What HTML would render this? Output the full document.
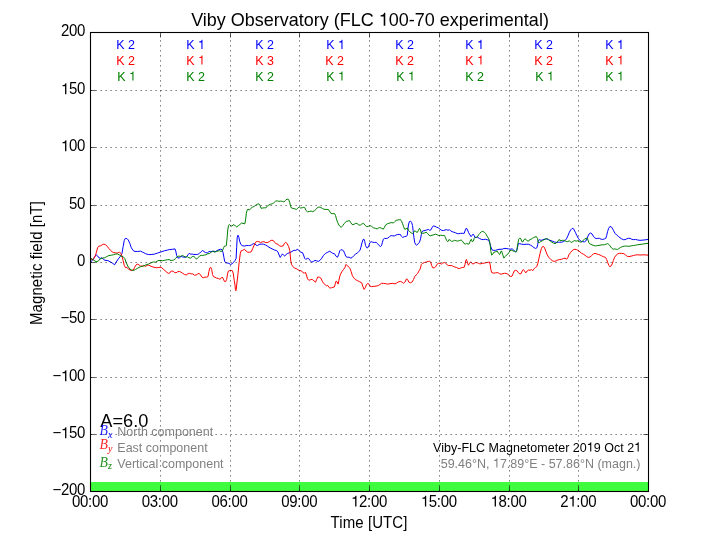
<!DOCTYPE html>
<html><head><meta charset="utf-8"><title>Viby Observatory</title>
<style>
html,body{margin:0;padding:0;background:#fff;overflow:hidden}
svg{display:block;will-change:transform}
text{font-family:"Liberation Sans",sans-serif;fill:#000}
.it{font-family:"Liberation Serif",serif;font-style:italic}
tspan.o{fill:none !important}
</style></head><body>
<svg width="720" height="540" viewBox="0 0 720 540">
<rect x="0" y="0" width="720" height="540" fill="#ffffff"/>
<rect x="90.5" y="482" width="558.0" height="9.5" fill="#3ffc3f"/>
<g fill="none" stroke-width="1.0" stroke-linejoin="round">
<polyline stroke="#0000ff" points="90.89,261.67 92.78,260.0 94.44,257.22 96.11,254.78 97.56,255.89 98.89,257.78 100.56,258.33 101.67,257.78 103.33,259.22 105.0,260.33 107.78,260.56 110.0,261.67 112.22,263.0 114.67,264.78 116.11,262.22 118.33,258.89 120.56,256.11 122.0,253.33 123.11,246.67 124.22,240.56 125.33,238.33 126.89,238.56 128.33,240.0 129.78,243.33 131.33,247.78 133.11,250.56 135.0,251.44 137.78,251.44 140.56,251.11 142.78,252.22 145.56,253.67 148.33,254.56 151.11,254.56 154.44,254.11 157.78,253.0 161.11,251.89 164.44,250.78 167.78,250.0 169.78,249.44 170.0,249.67 172.78,249.22 175.0,248.89 175.78,251.11 176.67,255.56 178.0,258.11 179.44,257.78 181.11,256.33 182.78,257.0 185.0,257.22 186.67,256.67 188.0,254.78 189.11,253.33 190.56,254.11 192.22,254.11 193.89,254.44 196.11,254.44 197.78,254.44 199.44,253.33 201.11,251.67 202.44,250.56 203.89,251.44 205.56,252.56 207.22,253.0 208.89,251.67 210.56,251.44 212.0,251.67 213.56,251.11 215.33,251.67 216.89,250.78 218.89,249.67 220.56,249.22 222.0,249.67 223.11,252.78 223.89,257.22 224.67,261.11 225.56,262.78 227.22,263.0 228.89,263.33 230.56,264.44 232.0,263.89 233.56,262.22 235.0,260.56 236.11,258.33 236.67,247.22 237.22,237.22 238.0,235.22 238.89,237.22 239.78,241.67 240.89,244.44 242.22,245.56 244.22,246.11 246.11,245.56 248.33,245.56 249.78,245.56 250.0,245.56 251.67,244.78 253.33,243.67 255.0,243.89 256.11,245.22 257.56,245.56 259.11,244.44 261.11,244.11 263.33,244.11 265.56,245.0 267.78,246.33 270.0,247.78 272.22,248.89 274.44,250.0 276.67,250.56 278.0,252.22 279.11,255.0 280.22,257.44 281.33,255.56 282.44,253.89 283.56,255.22 284.67,256.11 286.11,254.44 287.78,253.33 290.0,252.56 292.0,251.44 293.89,250.33 295.78,250.33 297.78,249.22 299.44,251.11 300.89,252.22 302.44,252.56 303.56,255.0 304.67,258.33 305.78,259.44 307.22,258.33 308.67,258.56 310.0,260.33 311.67,262.22 313.33,261.44 315.0,260.33 316.67,260.78 318.33,261.44 320.0,260.33 321.67,258.33 323.33,255.56 325.56,253.33 327.78,252.22 329.78,251.22 331.11,252.22 332.78,253.33 334.44,253.67 336.11,256.33 337.56,257.22 338.67,254.44 339.78,250.78 340.89,249.67 342.22,250.0 343.56,250.78 344.67,253.33 345.78,256.33 347.22,257.22 349.11,257.22 350.89,258.11 352.22,257.44 353.89,255.56 355.56,254.11 357.22,253.0 358.67,251.67 360.0,250.33 360.89,247.22 362.0,242.78 363.11,239.44 364.0,239.22 364.78,241.67 365.56,245.56 366.67,247.78 367.78,247.78 368.89,245.56 369.78,242.78 371.11,241.67 372.78,242.22 374.44,242.56 376.11,242.22 377.56,243.67 379.11,245.56 380.56,246.67 381.67,245.22 382.44,242.22 383.33,239.22 384.44,238.33 386.11,238.56 387.78,238.11 389.44,236.67 391.11,235.56 392.78,235.89 394.44,235.89 396.11,235.0 397.78,234.44 399.78,234.44 400.0,234.11 401.33,236.11 402.78,237.44 404.44,236.67 406.11,236.33 407.22,235.56 407.78,230.56 408.44,225.0 409.33,221.67 410.56,221.11 411.67,222.56 412.56,225.56 413.11,230.56 413.89,237.22 414.67,242.22 415.56,244.44 416.67,245.22 418.0,243.89 419.44,242.22 420.56,238.89 421.33,234.44 422.0,231.67 423.33,230.78 425.0,230.56 426.67,230.0 428.33,229.44 429.78,230.33 431.11,229.67 432.22,227.22 433.33,225.89 435.0,226.33 436.67,227.22 438.33,227.78 440.0,229.22 441.67,230.33 443.33,230.56 445.0,230.0 446.67,229.67 448.0,230.33 449.44,229.67 450.89,231.11 452.22,231.67 453.89,232.22 455.56,232.78 457.22,233.67 458.89,233.67 460.56,233.33 462.22,233.33 464.22,233.33 465.33,230.0 466.44,228.11 467.56,230.0 468.67,232.78 470.0,235.0 471.11,236.67 472.22,235.22 473.11,234.11 474.22,235.56 475.0,237.78 476.44,237.22 477.78,237.22 479.11,238.33 479.78,238.56 480.0,238.67 481.67,239.56 483.33,239.56 485.56,239.22 487.22,239.78 488.67,240.0 489.78,243.11 490.89,247.0 492.0,249.78 493.33,250.33 495.56,250.33 497.78,249.56 500.0,249.22 502.22,249.22 503.89,248.44 506.11,248.44 508.33,248.89 510.0,249.22 512.22,248.89 513.89,250.33 515.56,251.78 516.67,251.11 517.56,247.0 518.33,243.67 519.78,243.67 521.67,244.22 523.89,244.44 526.11,244.22 528.33,244.22 530.56,245.11 532.22,246.22 533.89,247.56 535.56,248.44 536.89,247.78 537.78,244.22 538.33,240.33 539.44,239.78 541.11,240.33 542.78,239.78 544.44,239.22 546.67,238.89 548.33,239.56 550.0,240.33 552.22,241.11 554.44,242.0 556.67,242.56 558.33,242.22 559.78,242.22 560.0,242.22 561.67,242.22 563.33,241.67 565.0,240.56 566.44,238.89 567.78,236.11 569.11,232.78 570.56,230.0 572.0,228.56 573.11,228.33 574.22,230.0 575.56,232.78 576.89,235.56 578.33,238.33 579.78,240.33 581.33,241.44 582.78,241.67 584.44,241.89 585.78,241.11 586.89,238.89 588.0,236.11 589.11,233.89 590.56,233.0 592.0,233.89 593.33,236.11 594.67,237.78 596.11,238.56 597.78,238.33 599.44,238.33 601.11,239.22 602.78,239.44 604.44,238.89 605.78,238.33 606.67,235.56 607.56,231.67 608.67,228.33 609.78,226.67 611.11,226.67 612.22,228.11 613.56,230.56 615.0,233.33 616.67,235.0 618.33,236.33 620.0,237.78 621.67,238.89 623.33,239.67 625.0,239.67 626.67,238.89 628.33,238.33 630.0,238.33 631.67,239.22 633.33,239.67 635.56,239.44 637.78,240.0 640.0,240.33 644,240.0 648.5,239.4"/>
<polyline stroke="#ff0000" points="90.89,258.89 92.22,260.0 93.89,258.33 95.33,255.56 96.44,252.22 97.56,247.78 98.89,246.11 100.56,245.89 102.22,244.78 103.89,244.11 105.56,244.78 107.22,246.33 108.89,248.56 110.56,250.33 112.22,251.89 113.89,252.56 116.11,253.0 117.78,253.0 119.44,252.22 120.89,253.33 122.0,256.11 123.11,260.56 124.22,265.22 125.56,267.78 126.89,267.44 128.33,268.89 130.0,270.0 131.67,270.56 133.33,270.0 134.44,267.78 135.78,265.22 137.22,264.11 138.89,264.78 140.56,266.11 142.22,266.11 143.89,265.56 145.56,266.33 147.22,265.22 148.89,265.22 151.11,266.33 153.89,267.22 156.67,267.78 158.89,267.44 161.11,267.22 163.33,269.22 166.11,271.67 168.33,273.33 169.78,273.0 170.0,272.22 171.67,271.11 173.11,271.11 174.44,272.56 176.11,272.78 177.78,271.67 179.44,271.44 181.11,272.22 182.78,273.33 184.44,274.44 186.11,275.0 187.78,273.89 189.44,273.33 191.11,273.89 192.78,273.89 194.44,275.22 196.11,275.0 197.78,273.89 199.11,273.33 200.56,275.0 202.0,277.22 203.33,277.78 205.0,277.0 206.67,277.22 208.0,276.67 208.89,271.67 209.78,268.11 210.67,267.22 211.67,269.44 212.56,274.44 213.56,276.67 215.0,277.22 216.67,278.11 218.33,278.56 220.0,279.22 221.33,278.11 222.22,277.0 223.33,278.89 224.44,281.44 225.56,281.67 226.67,279.44 227.56,273.89 228.33,271.11 229.78,270.56 231.11,270.33 232.44,270.78 233.33,273.89 234.22,280.56 235.0,285.0 235.44,289.78 235.78,290.78 236.22,289.78 236.67,285.0 238.0,273.89 239.11,262.78 240.22,253.89 241.11,250.78 242.78,250.33 244.44,249.22 246.11,251.11 247.78,252.22 249.78,252.22 250.0,252.22 251.33,251.67 252.78,248.33 254.22,245.0 255.56,242.22 257.22,241.44 258.89,241.67 260.56,242.56 262.22,241.89 263.89,241.67 265.56,242.56 267.78,242.56 269.44,241.44 271.11,240.33 273.11,240.33 274.44,242.22 276.11,243.67 277.78,244.11 279.44,245.89 281.11,246.33 283.11,245.89 284.44,243.33 285.78,242.22 287.22,243.89 288.67,246.67 289.78,250.56 290.33,256.11 290.89,261.67 291.67,264.78 293.11,266.67 294.44,268.11 296.11,268.56 297.78,269.67 299.44,270.56 301.11,270.78 302.78,272.22 304.22,273.33 305.33,272.22 306.44,275.0 307.56,278.89 308.89,280.33 310.56,279.67 312.22,279.44 313.89,280.78 315.56,282.22 316.67,279.44 317.78,277.0 319.44,277.22 320.89,278.11 322.22,281.11 323.56,283.33 325.33,284.78 326.67,285.89 327.78,285.56 329.11,287.22 329.78,288.11 331.44,287.78 333.0,287.22 334.44,287.0 335.22,283.89 336.11,281.11 337.0,281.67 338.11,284.11 338.89,280.56 339.67,276.67 340.56,274.11 341.89,271.67 343.33,269.67 344.78,267.78 346.11,264.44 347.22,265.56 348.56,267.0 350.0,268.33 351.11,271.67 352.22,275.22 353.67,277.78 355.22,279.44 357.22,280.56 359.44,281.67 361.67,282.78 362.78,286.11 364.11,289.44 365.22,287.78 366.33,285.0 367.78,283.33 368.89,284.11 370.0,286.11 371.67,286.67 373.89,286.33 376.11,286.11 378.33,285.56 380.0,284.44 381.44,283.33 383.33,283.33 385.56,283.67 387.78,284.11 390.0,283.67 392.78,283.33 395.0,283.89 396.67,283.0 398.33,281.89 400.56,281.44 402.22,282.22 403.33,283.33 404.78,282.33 406.44,278.89 407.56,279.44 408.89,282.22 410.56,282.78 412.22,281.89 413.56,279.44 414.67,276.67 416.11,275.0 417.56,273.67 418.89,271.11 420.22,268.89 421.33,264.44 422.44,263.33 424.44,262.56 426.67,261.89 428.33,261.44 429.78,261.11 430.89,262.78 431.67,265.56 432.78,267.78 434.44,267.78 435.78,266.67 436.89,264.44 438.33,263.33 440.0,263.33 441.33,264.11 442.78,263.0 444.44,262.56 445.78,263.33 447.22,264.78 448.67,265.56 450.0,265.56 451.67,265.56 453.11,266.33 454.67,267.0 456.44,267.44 458.0,268.33 459.44,268.56 461.11,267.78 462.78,267.44 464.22,267.22 465.0,264.44 465.78,260.56 466.44,259.44 467.22,261.67 468.33,265.22 469.44,263.67 470.56,261.89 471.67,262.78 472.78,264.11 474.22,263.33 475.56,262.56 477.22,262.78 478.67,263.33 479.78,263.89 480.0,264.0 482.22,263.33 484.44,263.11 486.67,262.56 488.67,262.22 489.44,262.0 490.22,264.78 490.89,269.78 491.67,272.56 493.33,273.11 495.56,272.89 497.78,272.56 499.44,273.67 501.11,274.22 502.78,273.67 504.44,273.33 506.11,273.33 507.78,274.22 509.11,275.33 510.56,276.44 512.0,276.22 513.11,273.67 514.22,270.89 515.56,270.33 516.89,270.67 518.33,272.56 519.78,274.0 521.11,273.67 522.22,270.89 523.33,269.56 524.44,270.89 525.78,272.89 527.22,270.89 528.67,270.0 530.0,270.33 531.33,269.56 532.78,270.67 534.22,268.67 535.56,267.33 536.89,266.44 537.78,263.67 538.89,258.67 540.0,253.67 541.33,248.67 542.44,246.67 543.56,246.44 544.67,248.11 545.78,251.11 547.22,254.78 548.67,257.33 550.56,259.22 552.22,260.67 554.22,261.44 556.11,260.89 557.78,260.0 559.78,259.56 560.0,259.67 561.67,259.22 563.33,258.56 565.0,258.11 566.67,259.22 567.78,257.78 568.89,254.78 570.56,252.56 572.0,250.78 573.33,249.67 575.0,249.22 576.67,249.67 578.33,250.56 580.0,251.89 581.67,253.33 583.33,254.11 585.0,255.22 586.67,256.67 588.33,257.44 590.0,257.0 591.67,255.56 593.33,253.89 595.0,253.33 596.67,253.89 598.33,254.44 600.0,255.0 601.67,255.89 603.33,256.67 605.56,257.44 606.67,259.44 607.78,262.78 608.89,265.56 610.0,266.67 611.11,265.89 612.22,263.89 613.33,260.56 614.67,257.22 616.11,255.22 617.78,253.89 619.44,253.33 621.67,253.33 623.89,253.67 625.56,255.0 627.22,256.33 628.89,256.67 631.11,256.11 633.33,255.56 635.56,255.0 637.78,254.78 640.0,255.0 644,254.8 648.5,255.2"/>
<polyline stroke="#008000" points="90.89,258.33 92.78,259.44 95.0,261.11 96.89,261.67 98.67,260.78 100.22,258.89 102.22,258.11 104.44,257.78 106.67,256.67 108.89,255.56 111.11,255.22 113.33,254.78 115.56,254.11 117.22,253.89 119.11,254.78 121.11,256.11 123.11,256.67 124.67,258.33 126.11,262.22 127.78,266.11 129.78,268.89 131.67,270.0 133.56,270.56 135.56,269.44 137.78,268.11 140.56,266.67 143.33,266.11 145.56,265.0 148.33,264.11 151.11,262.78 153.33,261.89 155.56,262.22 157.78,260.78 160.0,260.33 162.22,260.78 164.44,260.33 167.78,259.67 169.78,259.67 170.0,260.33 172.22,260.33 173.89,260.0 175.56,258.33 177.22,256.67 178.89,256.11 180.56,256.33 182.22,255.56 183.89,256.11 185.56,257.22 187.22,256.67 188.89,257.78 190.56,258.11 192.22,256.67 193.89,256.33 195.33,257.78 196.44,259.22 197.78,257.78 199.44,256.33 201.11,255.22 202.78,255.56 204.44,255.0 206.11,254.78 207.78,253.67 209.44,253.67 211.11,252.22 212.78,251.11 214.44,252.22 216.11,251.44 217.78,251.11 219.44,250.78 221.11,251.44 222.44,250.78 223.56,247.78 224.67,245.89 225.78,246.11 226.33,245.56 227.0,238.89 227.78,230.0 228.56,225.33 229.44,224.44 230.56,225.78 231.89,226.11 233.0,225.0 234.11,224.67 235.56,226.11 236.67,226.89 238.33,225.78 240.0,224.44 241.44,223.11 243.0,223.33 244.78,223.89 245.56,220.0 246.33,213.33 247.22,209.78 248.11,209.11 249.22,210.22 250.56,208.67 252.22,207.22 254.11,206.44 255.56,205.33 257.22,204.22 258.89,203.89 260.0,205.56 261.11,208.33 262.78,208.0 264.44,207.78 265.89,208.0 267.22,206.11 268.89,205.0 270.56,204.22 272.22,203.89 273.89,202.78 275.56,201.11 277.22,200.89 278.89,201.33 280.56,201.11 282.22,201.33 283.89,202.0 285.56,200.22 287.0,199.11 288.56,199.44 289.67,202.22 290.56,206.11 291.44,208.0 293.0,208.33 294.78,208.89 296.33,209.44 297.78,208.33 299.22,206.89 300.56,208.0 302.22,207.78 303.89,207.22 304.78,207.56 306.11,210.56 307.56,211.89 309.44,211.44 311.11,211.11 312.78,211.67 314.44,210.78 316.11,209.22 317.56,207.44 319.11,207.0 320.89,207.44 322.22,208.33 323.89,209.22 326.11,209.44 328.33,209.44 329.44,211.11 330.89,213.33 332.78,213.67 334.67,213.67 335.56,215.56 336.44,218.89 337.56,222.22 338.89,225.0 340.22,226.67 341.33,227.22 342.78,225.56 344.44,223.33 346.11,221.44 347.78,221.11 349.44,220.56 350.56,222.22 352.0,224.44 353.89,224.44 355.56,223.33 357.22,223.67 358.89,225.0 360.22,225.22 361.67,224.11 363.56,223.33 365.0,225.22 366.67,226.67 368.33,226.33 369.78,225.56 371.67,226.33 373.33,227.78 375.33,228.33 377.22,228.89 378.89,227.78 379.78,227.44 380.0,227.78 381.67,228.33 383.33,229.22 384.44,227.22 385.78,224.78 387.22,223.89 388.89,223.33 391.11,222.56 393.33,223.0 394.67,221.67 396.11,220.33 397.78,220.0 399.11,219.67 399.78,220.0 400.0,219.44 401.33,220.56 402.44,223.33 403.56,226.67 404.67,229.22 406.11,228.89 407.22,227.78 408.33,230.33 409.78,231.67 411.11,232.78 412.44,233.67 413.56,232.56 414.67,230.78 415.78,231.44 417.22,232.56 418.33,230.56 419.44,228.33 420.56,230.0 421.33,233.33 422.78,233.33 424.44,233.0 426.11,232.22 427.56,233.33 428.89,235.22 430.22,235.89 432.0,235.22 433.89,234.78 435.56,234.11 437.22,234.78 438.89,235.56 440.56,235.22 442.78,235.56 444.44,235.56 445.56,237.78 446.67,240.56 447.78,241.67 448.89,239.67 450.22,240.0 451.67,241.44 453.11,241.11 454.44,240.33 456.11,240.78 457.78,241.11 459.44,240.56 461.11,240.0 462.44,241.11 463.89,243.33 465.33,244.11 466.67,243.33 468.0,244.11 469.11,243.89 470.22,241.11 471.33,239.22 472.22,241.67 473.33,241.11 474.22,238.33 475.33,237.22 476.67,237.44 477.78,236.11 479.11,234.11 479.78,233.44 480.0,233.11 481.33,231.78 482.78,231.44 484.44,232.22 485.78,233.67 486.89,235.89 488.33,238.11 489.44,240.33 490.22,245.33 490.89,251.44 491.67,255.11 492.78,254.22 493.89,252.22 495.56,251.78 497.22,251.11 498.33,253.11 499.78,254.44 500.89,251.44 501.67,251.11 502.78,254.78 503.89,258.11 505.0,256.67 506.11,255.33 507.56,254.44 508.89,252.56 510.0,250.67 511.67,250.33 513.33,251.11 514.67,251.11 515.78,252.22 516.89,249.78 517.78,244.22 518.67,239.22 519.78,238.11 520.89,238.67 521.67,241.44 522.78,242.0 523.89,239.78 525.0,238.89 526.11,239.56 527.22,240.89 528.67,241.11 529.78,239.56 531.11,239.22 532.22,238.44 533.56,237.56 535.0,237.0 536.44,236.67 537.56,238.67 538.33,242.56 539.44,242.56 540.89,241.44 542.22,240.89 543.89,239.78 545.56,238.89 547.22,238.67 548.67,239.78 550.22,241.11 552.0,242.22 553.56,243.11 555.0,243.67 556.44,242.89 557.78,240.89 559.11,239.78 559.78,239.56 560.0,240.78 562.22,240.33 564.44,240.33 566.11,241.44 567.78,241.67 569.44,240.78 571.11,242.56 572.78,241.67 574.44,240.56 576.11,241.11 577.78,240.78 579.44,241.67 581.11,242.22 582.78,240.78 584.44,239.22 586.11,238.33 587.22,238.11 588.0,240.0 588.89,242.78 590.22,244.11 592.0,244.78 593.89,245.56 595.56,245.89 597.78,245.56 600.0,245.22 602.22,244.78 604.44,244.78 606.11,244.11 607.56,243.67 608.89,244.44 610.22,246.11 611.67,248.11 613.11,249.22 614.67,248.89 616.11,249.22 617.56,249.44 618.89,248.56 620.56,247.44 622.22,246.67 624.44,246.11 626.67,246.11 628.89,246.33 631.11,245.89 633.33,245.56 635.56,245.22 637.78,244.78 640.0,244.44 644,243.9 648.5,243.2"/>
</g>
<g stroke="#000" stroke-width="0.625" stroke-dasharray="1.25 3.75" fill="none">
<line x1="160.50" y1="491.5" x2="160.50" y2="32.5"/>
<line x1="230.50" y1="491.5" x2="230.50" y2="32.5"/>
<line x1="299.50" y1="491.5" x2="299.50" y2="32.5"/>
<line x1="369.50" y1="491.5" x2="369.50" y2="32.5"/>
<line x1="439.50" y1="491.5" x2="439.50" y2="32.5"/>
<line x1="509.50" y1="491.5" x2="509.50" y2="32.5"/>
<line x1="578.50" y1="491.5" x2="578.50" y2="32.5"/>
<line x1="90.5" y1="434.50" x2="648.5" y2="434.50"/>
<line x1="90.5" y1="377.50" x2="648.5" y2="377.50"/>
<line x1="90.5" y1="319.50" x2="648.5" y2="319.50"/>
<line x1="90.5" y1="262.50" x2="648.5" y2="262.50"/>
<line x1="90.5" y1="205.50" x2="648.5" y2="205.50"/>
<line x1="90.5" y1="147.50" x2="648.5" y2="147.50"/>
<line x1="90.5" y1="90.50" x2="648.5" y2="90.50"/>
</g>
<g stroke="#000" stroke-width="0.625">
<line x1="90.50" y1="491.5" x2="90.50" y2="486.5"/><line x1="90.50" y1="32.5" x2="90.50" y2="37.5"/>
<line x1="160.50" y1="491.5" x2="160.50" y2="486.5"/><line x1="160.50" y1="32.5" x2="160.50" y2="37.5"/>
<line x1="230.50" y1="491.5" x2="230.50" y2="486.5"/><line x1="230.50" y1="32.5" x2="230.50" y2="37.5"/>
<line x1="299.50" y1="491.5" x2="299.50" y2="486.5"/><line x1="299.50" y1="32.5" x2="299.50" y2="37.5"/>
<line x1="369.50" y1="491.5" x2="369.50" y2="486.5"/><line x1="369.50" y1="32.5" x2="369.50" y2="37.5"/>
<line x1="439.50" y1="491.5" x2="439.50" y2="486.5"/><line x1="439.50" y1="32.5" x2="439.50" y2="37.5"/>
<line x1="509.50" y1="491.5" x2="509.50" y2="486.5"/><line x1="509.50" y1="32.5" x2="509.50" y2="37.5"/>
<line x1="578.50" y1="491.5" x2="578.50" y2="486.5"/><line x1="578.50" y1="32.5" x2="578.50" y2="37.5"/>
<line x1="648.50" y1="491.5" x2="648.50" y2="486.5"/><line x1="648.50" y1="32.5" x2="648.50" y2="37.5"/>
<line x1="90.5" y1="491.50" x2="95.5" y2="491.50"/><line x1="648.5" y1="491.50" x2="643.5" y2="491.50"/>
<line x1="90.5" y1="434.50" x2="95.5" y2="434.50"/><line x1="648.5" y1="434.50" x2="643.5" y2="434.50"/>
<line x1="90.5" y1="377.50" x2="95.5" y2="377.50"/><line x1="648.5" y1="377.50" x2="643.5" y2="377.50"/>
<line x1="90.5" y1="319.50" x2="95.5" y2="319.50"/><line x1="648.5" y1="319.50" x2="643.5" y2="319.50"/>
<line x1="90.5" y1="262.50" x2="95.5" y2="262.50"/><line x1="648.5" y1="262.50" x2="643.5" y2="262.50"/>
<line x1="90.5" y1="205.50" x2="95.5" y2="205.50"/><line x1="648.5" y1="205.50" x2="643.5" y2="205.50"/>
<line x1="90.5" y1="147.50" x2="95.5" y2="147.50"/><line x1="648.5" y1="147.50" x2="643.5" y2="147.50"/>
<line x1="90.5" y1="90.50" x2="95.5" y2="90.50"/><line x1="648.5" y1="90.50" x2="643.5" y2="90.50"/>
<line x1="90.5" y1="32.50" x2="95.5" y2="32.50"/><line x1="648.5" y1="32.50" x2="643.5" y2="32.50"/>
</g>
<rect x="90.5" y="32.5" width="558.0" height="459.0" fill="none" stroke="#000" stroke-width="1.1"/>
<text transform="translate(370,25.8) scale(1,1.04)" font-size="18" text-anchor="middle">Viby Observatory (FLC <tspan class="o">1</tspan>00-70 experimental)</text>
<g font-size="15" text-anchor="end" letter-spacing="-0.34">
<text transform="translate(85.0,495.20) scale(1,1.04)">−200</text>
<text transform="translate(85.0,438.20) scale(1,1.04)">−<tspan class="o">1</tspan>50</text>
<text transform="translate(85.0,381.20) scale(1,1.04)">−<tspan class="o">1</tspan>00</text>
<text transform="translate(85.0,323.20) scale(1,1.04)">−50</text>
<text transform="translate(85.0,266.20) scale(1,1.04)">0</text>
<text transform="translate(85.0,209.20) scale(1,1.04)">50</text>
<text transform="translate(85.0,151.20) scale(1,1.04)"><tspan class="o">1</tspan>00</text>
<text transform="translate(85.0,94.20) scale(1,1.04)"><tspan class="o">1</tspan>50</text>
<text transform="translate(85.0,36.20) scale(1,1.04)">200</text>
</g>
<g font-size="15" text-anchor="middle" letter-spacing="-0.34">
<text transform="translate(90.00,506.6) scale(1,1.04)">00:00</text>
<text transform="translate(159.75,506.6) scale(1,1.04)">03:00</text>
<text transform="translate(229.50,506.6) scale(1,1.04)">06:00</text>
<text transform="translate(299.25,506.6) scale(1,1.04)">09:00</text>
<text transform="translate(369.00,506.6) scale(1,1.04)"><tspan class="o">1</tspan>2:00</text>
<text transform="translate(438.75,506.6) scale(1,1.04)"><tspan class="o">1</tspan>5:00</text>
<text transform="translate(508.50,506.6) scale(1,1.04)"><tspan class="o">1</tspan>8:00</text>
<text transform="translate(578.25,506.6) scale(1,1.04)">2<tspan class="o">1</tspan>:00</text>
<text transform="translate(648.00,506.6) scale(1,1.04)">00:00</text>
</g>
<text transform="translate(369,527.5) scale(1,1.04)" font-size="15" text-anchor="middle" letter-spacing="0.09">Time [UTC]</text>
<text transform="translate(42.2,263.0) rotate(-90) scale(1,1.04)" font-size="15" text-anchor="middle" letter-spacing="0.08">Magnetic field [nT]</text>
<g font-size="12.5" style="fill:#0000ff">
<text transform="translate(116.2,49.0) scale(1,1.04)" style="fill:#0000ff">K 2</text>
<text transform="translate(186.2,49.0) scale(1,1.04)" style="fill:#0000ff">K <tspan class="o">1</tspan></text>
<text transform="translate(255.2,49.0) scale(1,1.04)" style="fill:#0000ff">K 2</text>
<text transform="translate(326.2,49.0) scale(1,1.04)" style="fill:#0000ff">K <tspan class="o">1</tspan></text>
<text transform="translate(395.2,49.0) scale(1,1.04)" style="fill:#0000ff">K 2</text>
<text transform="translate(465.2,49.0) scale(1,1.04)" style="fill:#0000ff">K <tspan class="o">1</tspan></text>
<text transform="translate(534.2,49.0) scale(1,1.04)" style="fill:#0000ff">K 2</text>
<text transform="translate(605.2,49.0) scale(1,1.04)" style="fill:#0000ff">K <tspan class="o">1</tspan></text>
</g>
<g font-size="12.5" style="fill:#ff0000">
<text transform="translate(116.2,64.6) scale(1,1.04)" style="fill:#ff0000">K 2</text>
<text transform="translate(186.2,64.6) scale(1,1.04)" style="fill:#ff0000">K <tspan class="o">1</tspan></text>
<text transform="translate(255.2,64.6) scale(1,1.04)" style="fill:#ff0000">K 3</text>
<text transform="translate(325.2,64.6) scale(1,1.04)" style="fill:#ff0000">K 2</text>
<text transform="translate(395.2,64.6) scale(1,1.04)" style="fill:#ff0000">K 2</text>
<text transform="translate(465.2,64.6) scale(1,1.04)" style="fill:#ff0000">K <tspan class="o">1</tspan></text>
<text transform="translate(534.2,64.6) scale(1,1.04)" style="fill:#ff0000">K 2</text>
<text transform="translate(605.2,64.6) scale(1,1.04)" style="fill:#ff0000">K <tspan class="o">1</tspan></text>
</g>
<g font-size="12.5" style="fill:#008000">
<text transform="translate(117.2,80.6) scale(1,1.04)" style="fill:#008000">K <tspan class="o">1</tspan></text>
<text transform="translate(186.2,80.6) scale(1,1.04)" style="fill:#008000">K 2</text>
<text transform="translate(255.2,80.6) scale(1,1.04)" style="fill:#008000">K 2</text>
<text transform="translate(326.2,80.6) scale(1,1.04)" style="fill:#008000">K <tspan class="o">1</tspan></text>
<text transform="translate(396.2,80.6) scale(1,1.04)" style="fill:#008000">K <tspan class="o">1</tspan></text>
<text transform="translate(465.2,80.6) scale(1,1.04)" style="fill:#008000">K 2</text>
<text transform="translate(535.2,80.6) scale(1,1.04)" style="fill:#008000">K <tspan class="o">1</tspan></text>
<text transform="translate(605.2,80.6) scale(1,1.04)" style="fill:#008000">K <tspan class="o">1</tspan></text>
</g>
<text transform="translate(100.3,426.8) scale(1.04,1.04)" font-size="17.5">A=6.0</text>
<text class="it" x="99.6" y="435.0" font-size="13.8" fill-opacity="0.85" style="fill:#0000ff">B</text><text class="it" x="108.0" y="437.7" font-size="10" style="fill:#0000ff">x</text><text transform="translate(117.3,435.7) scale(1,1.04)" font-size="12.5" style="fill:#808080">North component</text>
<text class="it" x="99.6" y="449.0" font-size="13.8" fill-opacity="0.85" style="fill:#ff0000">B</text><text class="it" x="108.0" y="451.7" font-size="10" style="fill:#ff0000">y</text><text transform="translate(117.3,451.7) scale(1,1.04)" font-size="12.5" style="fill:#808080">East component</text>
<text class="it" x="99.6" y="466.6" font-size="13.8" fill-opacity="0.85" style="fill:#008000">B</text><text class="it" x="108.0" y="469.3" font-size="10" style="fill:#008000">z</text><text transform="translate(117.3,467.7) scale(1,1.04)" font-size="12.5" style="fill:#808080">Vertical component</text>
<text transform="translate(641.2,451.5) scale(1,1.04)" letter-spacing="0.02" font-size="12.5" text-anchor="end">Viby-FLC Magnetometer 20<tspan class="o">1</tspan>9 Oct 2<tspan class="o">1</tspan></text>
<text transform="translate(640.5,467.5) scale(1,1.04)" font-size="12.5" text-anchor="end" style="fill:#808080">59.46°N, <tspan class="o">1</tspan>7.89°E - 57.86°N (magn.)</text>
<g fill="#000000">
<path transform="translate(378.81,25.80) scale(18,-18.72)" d="M.359 0L.359 .703L.297 .703C.285 .635 .225 .578 .101 .568L.101 .503L.272 .503L.272 0Z"/>
<path transform="translate(60.99,438.20) scale(15,-15.6)" d="M.359 0L.359 .703L.297 .703C.285 .635 .225 .578 .101 .568L.101 .503L.272 .503L.272 0Z"/>
<path transform="translate(60.99,381.20) scale(15,-15.6)" d="M.359 0L.359 .703L.297 .703C.285 .635 .225 .578 .101 .568L.101 .503L.272 .503L.272 0Z"/>
<path transform="translate(60.99,151.20) scale(15,-15.6)" d="M.359 0L.359 .703L.297 .703C.285 .635 .225 .578 .101 .568L.101 .503L.272 .503L.272 0Z"/>
<path transform="translate(60.99,94.20) scale(15,-15.6)" d="M.359 0L.359 .703L.297 .703C.285 .635 .225 .578 .101 .568L.101 .503L.272 .503L.272 0Z"/>
<path transform="translate(351.08,506.60) scale(15,-15.6)" d="M.359 0L.359 .703L.297 .703C.285 .635 .225 .578 .101 .568L.101 .503L.272 .503L.272 0Z"/>
<path transform="translate(420.83,506.60) scale(15,-15.6)" d="M.359 0L.359 .703L.297 .703C.285 .635 .225 .578 .101 .568L.101 .503L.272 .503L.272 0Z"/>
<path transform="translate(490.58,506.60) scale(15,-15.6)" d="M.359 0L.359 .703L.297 .703C.285 .635 .225 .578 .101 .568L.101 .503L.272 .503L.272 0Z"/>
<path transform="translate(568.33,506.60) scale(15,-15.6)" d="M.359 0L.359 .703L.297 .703C.285 .635 .225 .578 .101 .568L.101 .503L.272 .503L.272 0Z"/>
<path transform="translate(586.80,451.50) scale(12.5,-13)" d="M.359 0L.359 .703L.297 .703C.285 .635 .225 .578 .101 .568L.101 .503L.272 .503L.272 0Z"/>
<path transform="translate(634.22,451.50) scale(12.5,-13)" d="M.359 0L.359 .703L.297 .703C.285 .635 .225 .578 .101 .568L.101 .503L.272 .503L.272 0Z"/>
</g>
<g fill="#0000ff">
<path transform="translate(198.01,49.00) scale(12.5,-13)" d="M.359 0L.359 .703L.297 .703C.285 .635 .225 .578 .101 .568L.101 .503L.272 .503L.272 0Z"/>
<path transform="translate(338.01,49.00) scale(12.5,-13)" d="M.359 0L.359 .703L.297 .703C.285 .635 .225 .578 .101 .568L.101 .503L.272 .503L.272 0Z"/>
<path transform="translate(477.01,49.00) scale(12.5,-13)" d="M.359 0L.359 .703L.297 .703C.285 .635 .225 .578 .101 .568L.101 .503L.272 .503L.272 0Z"/>
<path transform="translate(617.01,49.00) scale(12.5,-13)" d="M.359 0L.359 .703L.297 .703C.285 .635 .225 .578 .101 .568L.101 .503L.272 .503L.272 0Z"/>
</g>
<g fill="#ff0000">
<path transform="translate(198.01,64.60) scale(12.5,-13)" d="M.359 0L.359 .703L.297 .703C.285 .635 .225 .578 .101 .568L.101 .503L.272 .503L.272 0Z"/>
<path transform="translate(477.01,64.60) scale(12.5,-13)" d="M.359 0L.359 .703L.297 .703C.285 .635 .225 .578 .101 .568L.101 .503L.272 .503L.272 0Z"/>
<path transform="translate(617.01,64.60) scale(12.5,-13)" d="M.359 0L.359 .703L.297 .703C.285 .635 .225 .578 .101 .568L.101 .503L.272 .503L.272 0Z"/>
</g>
<g fill="#008000">
<path transform="translate(129.01,80.60) scale(12.5,-13)" d="M.359 0L.359 .703L.297 .703C.285 .635 .225 .578 .101 .568L.101 .503L.272 .503L.272 0Z"/>
<path transform="translate(338.01,80.60) scale(12.5,-13)" d="M.359 0L.359 .703L.297 .703C.285 .635 .225 .578 .101 .568L.101 .503L.272 .503L.272 0Z"/>
<path transform="translate(408.01,80.60) scale(12.5,-13)" d="M.359 0L.359 .703L.297 .703C.285 .635 .225 .578 .101 .568L.101 .503L.272 .503L.272 0Z"/>
<path transform="translate(547.01,80.60) scale(12.5,-13)" d="M.359 0L.359 .703L.297 .703C.285 .635 .225 .578 .101 .568L.101 .503L.272 .503L.272 0Z"/>
<path transform="translate(617.01,80.60) scale(12.5,-13)" d="M.359 0L.359 .703L.297 .703C.285 .635 .225 .578 .101 .568L.101 .503L.272 .503L.272 0Z"/>
</g>
<g fill="#808080">
<path transform="translate(492.95,467.50) scale(12.5,-13)" d="M.359 0L.359 .703L.297 .703C.285 .635 .225 .578 .101 .568L.101 .503L.272 .503L.272 0Z"/>
</g>
</svg>
</body></html>
